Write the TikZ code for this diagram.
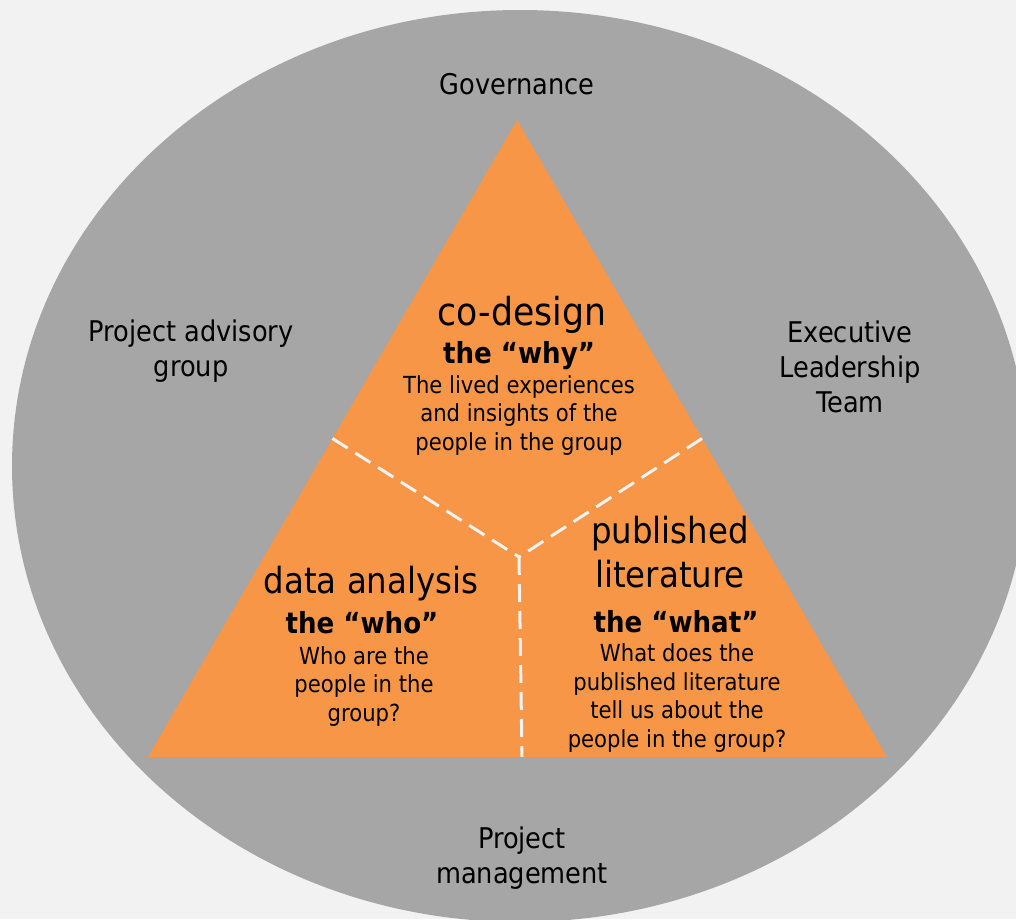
\documentclass[tikz,border=0pt]{standalone}
\usepackage{fontspec}
\setmainfont{DejaVu Sans}[FakeStretch=0.9]
\usetikzlibrary{calc,positioning}
\definecolor{paper}{HTML}{F2F2F2}
\definecolor{ring}{HTML}{A6A6A6}
\definecolor{wedge}{HTML}{F79646}

\begin{document}
\begin{tikzpicture}[% sizes are in pixels, y runs downwards
		x=1pt,y=-1pt,
		every node/.style={
			align=center,	% so that "\\" breaks the line
			inner sep=0pt,
			anchor=base		% multi-line nodes sit on the baseline of their last line
		},
		outer/.style={font=\fontsize{28.5}{35}\selectfont},
		title/.style={font=\fontsize{36}{44}\selectfont},
		tag/.style={font=\bfseries\fontsize{29}{35}\selectfont},
		detail/.style={font=\fontsize{23.5}{28.5}\selectfont},
		cut/.style={draw=paper,line width=3pt,dash pattern=on 18pt off 9pt}
	]
	\useasboundingbox (0,0) rectangle (1016,919);
	\clip (0,0) rectangle (1016,919);
	\fill[paper] (0,0) rectangle (1016,919);
	\fill[ring] (520,466) ellipse [x radius=508, y radius=456];

	% the triangle and its three parts
	\coordinate (apex) at (517,120);
	\coordinate (bl) at (148,757);
	\coordinate (br) at (887,757);
	\coordinate (mid) at (519,557);
	\coordinate (lcut) at ($(apex)!.5!(bl)$);
	\coordinate (rcut) at ($(apex)!.5!(br)$);
	\coordinate (bcut) at (522,757);
	\fill[wedge] (apex) -- (bl) -- (br) -- cycle;
	\draw[cut] (lcut) -- (mid);
	\draw[cut] (rcut) -- (mid);
	\draw[cut] (mid) -- (bcut);

	% ring labels
	\node[outer] (gov) at (517,94) {Governance};
	\node[outer] (advisory) at (191,376) {Project advisory\\group};
	\node[outer] (exec) at (850,412) {Executive\\Leadership\\Team};
	\node[outer] (mgmt) at (522,883) {Project\\management};

	% top part
	\node[title,font=\fontsize{38.5}{44}\selectfont] (codesign) at (522,325) {co-design};
	\node[tag] (why) at (519,363) {the “why”};
	\node[detail] (whyText) at (519,450) {The lived experiences\\and insights of the\\people in the group};

	% left part
	\node[title] (data) at (371,593) {data analysis};
	\node[tag] (who) at (362,633) {the “who”};
	\node[detail] (whoText) at (364,721) {Who are the\\people in the\\group?};

	% right part
	\node[title] (lit) at (670,587) {published\\literature};
	\node[tag] (what) at (676,632) {the “what”};
	\node[detail] (whatText) at (677,747) {What does the\\published literature\\tell us about the\\people in the group?};
\end{tikzpicture}
\end{document}
